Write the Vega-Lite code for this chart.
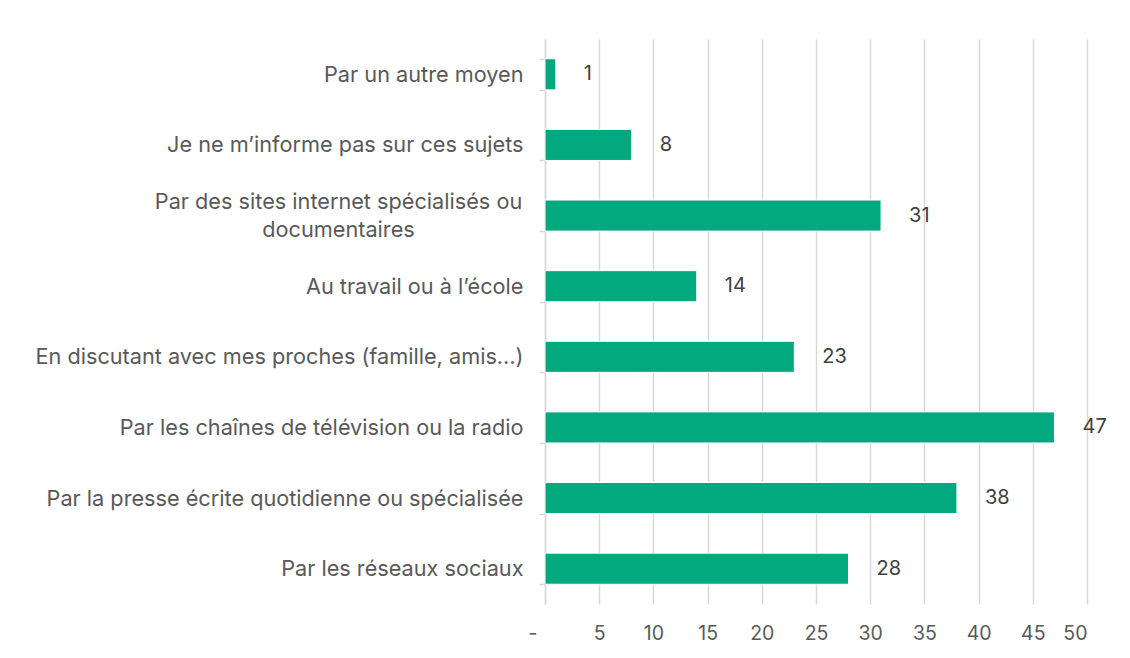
{
  "$schema": "https://vega.github.io/schema/vega-lite/v6.json",
  "width": 542,
  "height": 565,
  "autosize": {"type": "none"},
  "padding": {"left": 545, "top": 39, "right": 43, "bottom": 54},
  "background": "white",
  "config": {
    "view": {"stroke": null},
    "font": "Inter",
    "text": {"font": "Inter"}
  },
  "data": {
    "values": [
      {"moyen": "Par un autre moyen", "valeur": 1},
      {"moyen": "Je ne m’informe pas sur ces sujets", "valeur": 8},
      {"moyen": "Par des sites internet spécialisés ou documentaires", "valeur": 31},
      {"moyen": "Au travail ou à l’école", "valeur": 14},
      {"moyen": "En discutant avec mes proches (famille, amis…)", "valeur": 23},
      {"moyen": "Par les chaînes de télévision ou la radio", "valeur": 47},
      {"moyen": "Par la presse écrite quotidienne ou spécialisée", "valeur": 38},
      {"moyen": "Par les réseaux sociaux", "valeur": 28}
    ]
  },
  "encoding": {
    "y": {
      "field": "moyen",
      "type": "nominal",
      "sort": null,
      "scale": {"paddingInner": 0.56, "paddingOuter": 0.28},
      "axis": {
        "title": null,
        "domain": true,
        "domainColor": "#D9D9D9",
        "domainWidth": 1.5,
        "ticks": true,
        "tickBand": "extent",
        "tickColor": "#D9D9D9",
        "tickWidth": 1.5,
        "tickSize": 6,
        "labelAlign": {"condition": {"test": "datum.value == 'Par des sites internet spécialisés ou documentaires'", "value": "center"}, "value": "right"},
        "labelPadding": {"condition": {"test": "datum.value == 'Par des sites internet spécialisés ou documentaires'", "value": 201}, "value": 16},
        "labelOffset": {"condition": {"test": "datum.value == 'Par des sites internet spécialisés ou documentaires'", "value": -14}, "value": 0},
        "labelFont": "Inter",
        "labelFontSize": 21.7,
        "labelColor": "#595959",
        "labelLimit": 600,
        "labelLineHeight": 28,
        "labelExpr": "datum.value == 'Par des sites internet spécialisés ou documentaires' ? ['Par des sites internet spécialisés ou', 'documentaires'] : datum.value"
      }
    }
  },
  "layer": [
    {
      "mark": {"type": "bar", "color": "#02A97E", "stroke": "white", "strokeWidth": 1},
      "encoding": {
        "x": {
          "field": "valeur",
          "type": "quantitative",
          "scale": {"domain": [0, 50], "nice": false},
          "axis": {
            "title": null,
            "values": [0, 5, 10, 15, 20, 25, 30, 35, 40, 45, 50],
            "domain": false,
            "ticks": false,
            "grid": true,
            "gridColor": "#D9D9D9",
            "gridWidth": 1.5,
            "labelPadding": 20,
            "labelFont": "Inter",
            "labelFontSize": 19.5,
            "labelColor": "#595959",
            "labelOffset": {"condition": {"test": "datum.value == 0", "value": -17}, "value": 0},
            "labelExpr": "datum.value == 0 ? '-' : datum.label"
          }
        }
      }
    },
    {
      "mark": {"type": "text", "align": "left", "dx": 28, "font": "Inter", "fontSize": 20, "color": "#404040"},
      "encoding": {
        "x": {"field": "valeur", "type": "quantitative"},
        "text": {"field": "valeur", "type": "quantitative"}
      }
    }
  ]
}
